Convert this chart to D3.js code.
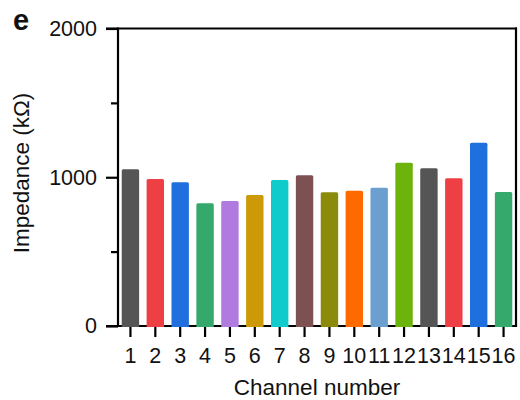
<!DOCTYPE html>
<html>
<head>
<meta charset="utf-8">
<script src="https://cdn.jsdelivr.net/npm/d3@7"></script>
<style>
  html, body { margin: 0; padding: 0; background: #fff; }
  svg { display: block; font-family: "Liberation Sans", Arial, Helvetica, sans-serif; }
</style>
</head>
<body>
<svg id="chart" width="520" height="400"></svg>
<script>
const channels = ["1","2","3","4","5","6","7","8","9","10","11","12","13","14","15","16"];
const impedance = [1053, 988, 966, 825, 840, 881, 981, 1013, 899, 910, 930, 1098, 1060, 993, 1232, 901];
const barColors = ["#555555","#ee3f45","#1f6fde","#34a96b","#b07ade","#cc9a06","#10cbcb","#7d5151",
                   "#8b8a0b","#ff6a00","#6a9fd0","#6cb30b","#555555","#ee3f45","#1f6fde","#34a96b"];
const yMajorTicks = [0, 1000, 2000];
const yMinorTicks = [500, 1500];

const svg = d3.select("#chart");
const mLeft = 118, mRight = 516, mTop = 28.5, mBottom = 326;

const x = d3.scaleBand().domain(channels).range([mLeft, mRight]).paddingInner(0.3).paddingOuter(0.15);
const y = d3.scaleLinear().domain([0, 2000]).range([mBottom, mTop]);

// frame
const frame = svg.append("g").attr("stroke", "#000").attr("stroke-width", 2.2).attr("fill", "none");
frame.append("line").attr("x1", mLeft).attr("x2", mLeft).attr("y1", mTop - 1).attr("y2", mBottom + 1);
frame.append("line").attr("x1", mRight).attr("x2", mRight).attr("y1", mTop - 1).attr("y2", mBottom + 1);
frame.append("line").attr("x1", mLeft - 12).attr("x2", mRight + 1).attr("y1", y(2000)).attr("y2", y(2000));
frame.append("line").attr("x1", mLeft - 12).attr("x2", mRight + 1).attr("y1", y(0)).attr("y2", y(0));

// bars
svg.append("g").selectAll("path").data(impedance).join("path")
  .attr("fill", (d, i) => barColors[i])
  .attr("d", (d, i) => {
    const x0 = x(channels[i]), w = x.bandwidth(), yt = y(d), yb = y(0) + 1, r = 1.5;
    return `M${x0},${yb}V${yt + r}Q${x0},${yt} ${x0 + r},${yt}H${x0 + w - r}Q${x0 + w},${yt} ${x0 + w},${yt + r}V${yb}Z`;
  });

// y axis
const yAxis = d3.axisLeft(y).tickValues(yMajorTicks).tickSize(12).tickPadding(9).tickFormat(d3.format("d"));
const gy = svg.append("g").attr("transform", `translate(${mLeft},0)`).call(yAxis);
gy.select(".domain").remove();
gy.selectAll(".tick line").attr("stroke", "#000").attr("stroke-width", 2.2);
gy.selectAll(".tick text").attr("font-size", 21.5).attr("fill", "#111")
  .attr("font-family", "'Liberation Sans', Arial, sans-serif");
const yMinor = d3.axisLeft(y).tickValues(yMinorTicks).tickSize(7).tickFormat("");
const gym = svg.append("g").attr("transform", `translate(${mLeft},0)`).call(yMinor);
gym.select(".domain").remove();
gym.selectAll(".tick line").attr("stroke", "#000").attr("stroke-width", 2.2);

// x axis
const xAxis = d3.axisBottom(x).tickSize(10).tickPadding(11);
const gx = svg.append("g").attr("transform", `translate(0,${mBottom + 1})`).call(xAxis);
gx.select(".domain").remove();
gx.selectAll(".tick line").attr("stroke", "#000").attr("stroke-width", 2.2);
gx.selectAll(".tick text").attr("font-size", 21.5).attr("fill", "#111")
  .attr("font-family", "'Liberation Sans', Arial, sans-serif");

// labels
svg.append("text").attr("x", 317).attr("y", 394.5).attr("text-anchor", "middle")
  .attr("font-size", 22.5).attr("fill", "#111").text("Channel number");
svg.append("text").attr("transform", "translate(29,173) rotate(-90)").attr("text-anchor", "middle")
  .attr("font-size", 22.5).attr("fill", "#111").text("Impedance (kΩ)");
svg.append("text").attr("x", 13).attr("y", 30).attr("font-size", 29).attr("font-weight", "bold")
  .attr("fill", "#111").text("e");
</script>
</body>
</html>
